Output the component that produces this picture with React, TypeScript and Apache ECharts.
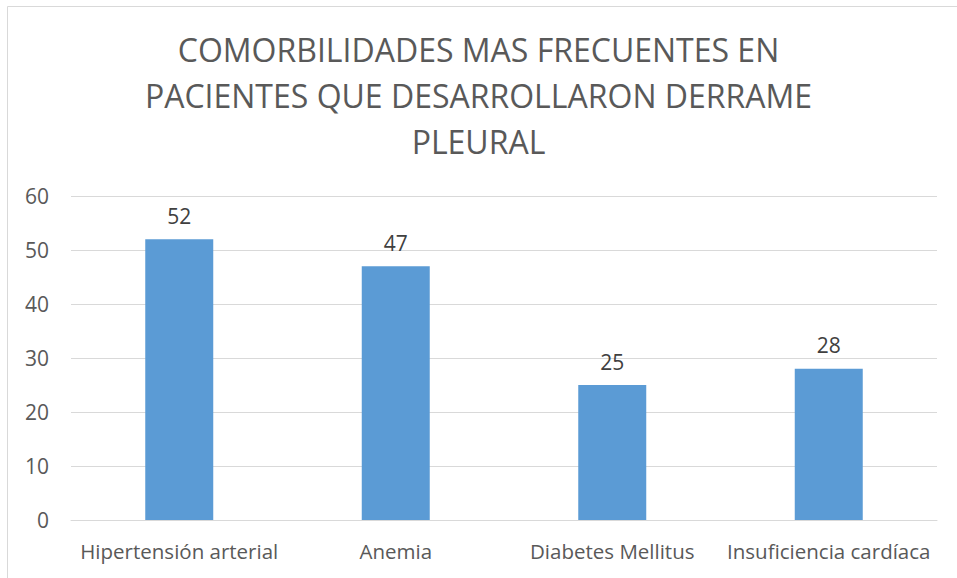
import React, { useEffect, useRef } from "react";
import * as echarts from "echarts";

const categories = ["Hipertensión arterial", "Anemia", "Diabetes Mellitus", "Insuficiencia cardíaca"];
const values = [52, 47, 25, 28];
const titleLines = ["COMORBILIDADES MAS FRECUENTES EN", "PACIENTES QUE DESARROLLARON DERRAME", "PLEURAL"];

export default function App() {
  const ref = useRef<HTMLDivElement>(null);
  useEffect(() => {
    if (!ref.current) return;
    const chart = echarts.init(ref.current, null, { renderer: "svg" });
    chart.setOption({
      animation: false,
      backgroundColor: "#ffffff",
      textStyle: { fontFamily: "Open Sans" },
      title: {
        text: titleLines.join("\n"),
        left: "center",
        top: 21,
        textStyle: {
          fontFamily: "Open Sans",
          fontSize: 32,
          fontWeight: "normal",
          color: "#595959",
          lineHeight: 46,
        },
      },
      graphic: [
        {
          type: "rect",
          shape: { x: 7.5, y: 6.5, width: 1000, height: 1000 },
          style: { fill: "none", stroke: "#d9d9d9", lineWidth: 1 },
          silent: true,
        },
      ],
      grid: { left: 71, right: 20, top: 196, bottom: 58, containLabel: false },
      xAxis: {
        type: "category",
        data: categories,
        axisLine: { show: true, lineStyle: { color: "#d9d9d9", width: 1 } },
        axisTick: { show: false },
        axisLabel: { color: "#595959", fontSize: 20.5, margin: 20, interval: 0, fontFamily: "Open Sans" },
      },
      yAxis: {
        type: "value",
        min: 0,
        max: 60,
        interval: 10,
        axisLine: { show: false },
        axisTick: { show: false },
        axisLabel: { color: "#595959", fontSize: 21, margin: 22, fontFamily: "Open Sans" },
        splitLine: { lineStyle: { color: "#d9d9d9", width: 1 } },
      },
      series: [
        {
          type: "bar",
          data: values,
          barWidth: 68,
          itemStyle: { color: "#5b9bd5" },
          label: { show: true, position: "top", distance: 13, color: "#404040", fontSize: 21, fontFamily: "Open Sans" },
        },
      ],
    });
    return () => chart.dispose();
  }, []);
  return <div ref={ref} style={{ position: "fixed", left: 0, top: 0, width: 957, height: 578 }} />;
}
